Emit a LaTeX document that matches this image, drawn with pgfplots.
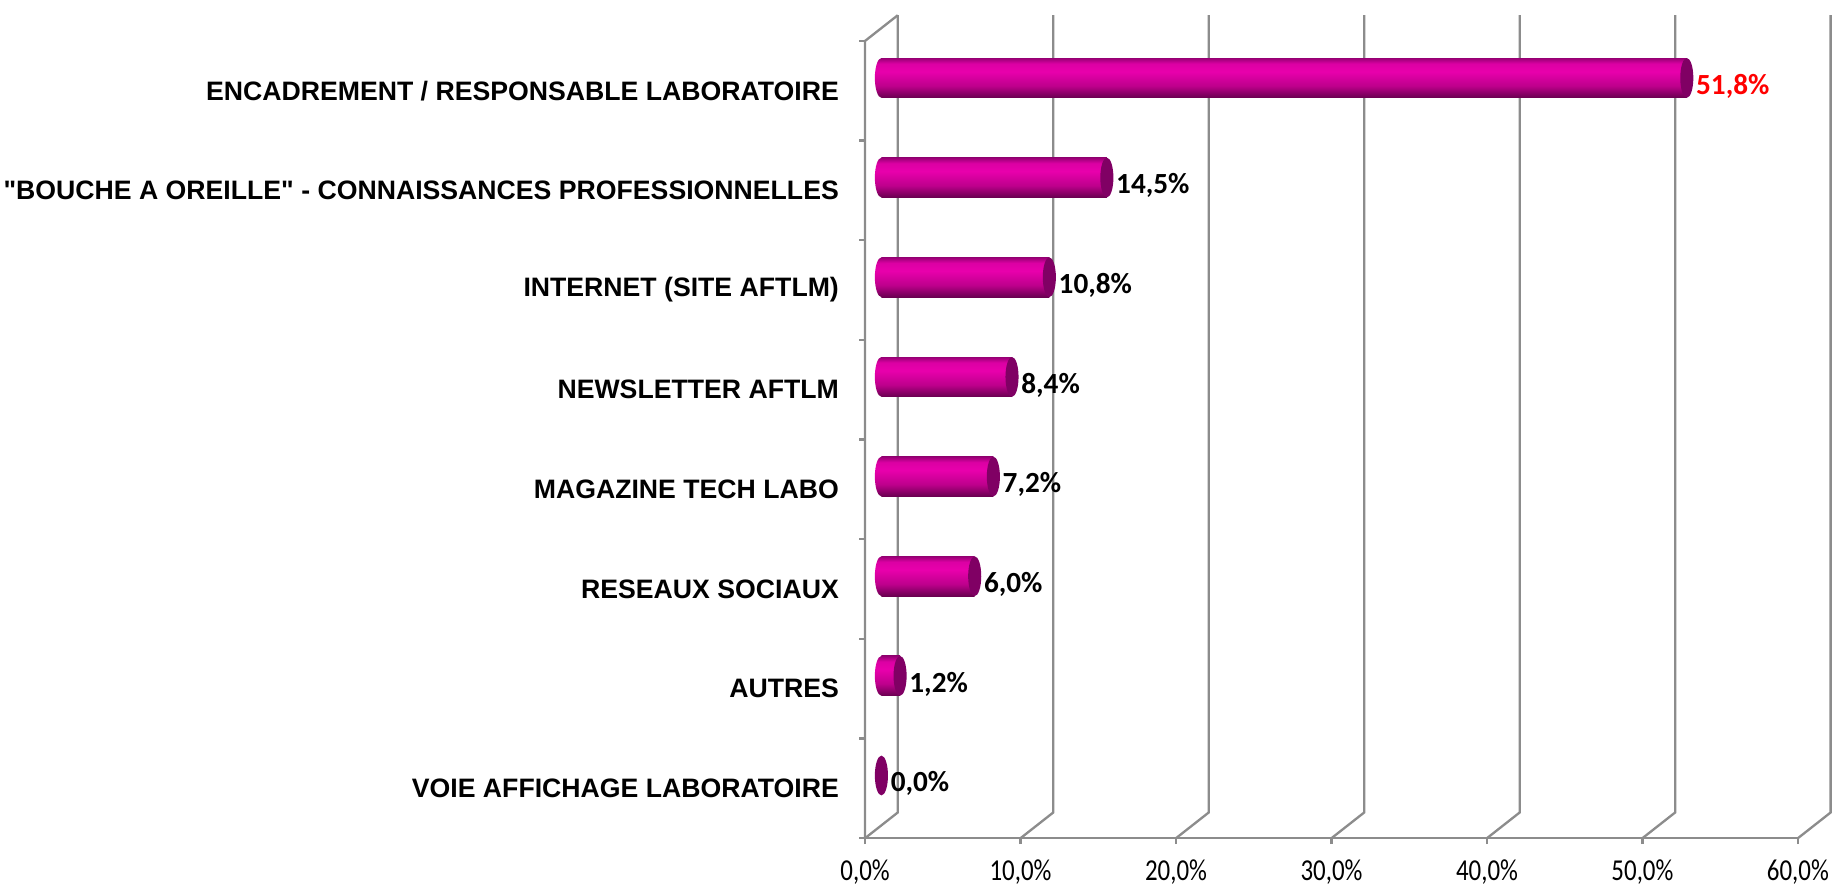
\documentclass[border=0pt]{standalone}
\usepackage{fontspec}
\setmainfont{Liberation Sans}[Ligatures=TeXOff]
\newfontfamily\carlito{Carlito}
\newfontfamily\carlitocond{Carlito}[FakeStretch=0.82]
\usepackage{pgfplots}
\pgfplotsset{compat=1.18}
\definecolor{cbright}{RGB}{232,0,172}
\definecolor{cmid}{RGB}{190,0,140}
\definecolor{cdark}{RGB}{105,0,80}
\definecolor{ctop}{RGB}{150,0,115}
\definecolor{ccap}{RGB}{128,0,100}
\definecolor{gridc}{RGB}{140,140,140}
\pgfdeclareverticalshading{cyl}{100bp}{color(0bp)=(cdark); color(25bp)=(cdark); color(40bp)=(cmid); color(58bp)=(cbright); color(68bp)=(cbright!85!ctop); color(75bp)=(ctop); color(100bp)=(ctop)}
\pgfdeclareplotmark{lcap}{\pgfpathellipse{\pgfpointorigin}{\pgfqpoint{2.8pt}{0pt}}{\pgfqpoint{0pt}{8.5pt}}\pgfshadepath{cyl}{0}\pgfusepath{}}
\pgfdeclareplotmark{rcap}{\pgfpathellipse{\pgfpointorigin}{\pgfqpoint{2.8pt}{0pt}}{\pgfqpoint{0pt}{8.5pt}}\pgfusepathqfill}
\newcommand\cylbody[2]{\addplot[xbar, bar shift=0pt, bar width=17pt, draw=none, shade, shading=cyl, shading angle=0, xshift=7pt, yshift=5.5pt] coordinates {(#1,#2)};}
\begin{document}
\begin{tikzpicture}
\useasboundingbox (-370pt,-20pt) rectangle (414pt,358.5pt);
\begin{axis}[
  at={(0,0)}, anchor=south west,
  scale only axis, width=399pt, height=341pt,
  xmin=0, xmax=60, ymin=-0.5, ymax=7.5, y dir=reverse,
  axis x line*=bottom, axis y line*=left,
  axis line style={gridc, line width=1pt},
  tick style={gridc, line width=1pt},
  tick align=outside, major tick length=2.5pt,
  xtick={0,10,...,60},
  xticklabel={\pgfmathprintnumber{\tick}\%},
  /pgf/number format/.cd, fixed, fixed zerofill, precision=1, use comma, assume math mode=true,
  /pgfplots/.cd,
  xticklabel style={font=\carlitocond\fontsize{13}{15}\selectfont, anchor=north, inner sep=0pt, yshift=-6.5pt},
  ytick={-0.5,0.5,...,7.5}, yticklabels={},
  extra y ticks={0,1,...,7},
  extra y tick labels={{ENCADREMENT / RESPONSABLE LABORATOIRE},{"BOUCHE A OREILLE" - CONNAISSANCES PROFESSIONNELLES},{INTERNET (SITE AFTLM)},{NEWSLETTER AFTLM},{MAGAZINE TECH LABO},{RESEAUX SOCIAUX},{AUTRES},{VOIE AFFICHAGE LABORATOIRE\ }},
  extra y tick style={major tick length=0pt, yticklabel style={font=\fontsize{11.4}{13}\selectfont\bfseries, anchor=east, inner sep=0pt, xshift=-11pt}},
  clip=false,
]
\pgfplotsinvokeforeach{0,10,20,30,40,50,60}{
  \draw[gridc, line width=1pt] (axis cs:#1,7.5) -- ([xshift=14pt,yshift=11pt]axis cs:#1,7.5) -- ([xshift=14pt,yshift=11pt]axis cs:#1,-0.5);
}
\draw[gridc, line width=1pt] (axis cs:0,7.5) -- (axis cs:0,-0.5) -- ([xshift=14pt,yshift=11pt]axis cs:0,-0.5);
\draw[gridc, line width=1pt] (axis cs:0,7.5) -- (axis cs:60,7.5);
% left caps
\addplot[only marks, mark=lcap, xshift=7pt, yshift=5.5pt] coordinates {(0,0) (0,1) (0,2) (0,3) (0,4) (0,5) (0,6)};
% bodies, one plot each
\cylbody{51.8}{0}
\cylbody{14.5}{1}
\cylbody{10.8}{2}
\cylbody{8.4}{3}
\cylbody{7.2}{4}
\cylbody{6.0}{5}
\cylbody{1.2}{6}
% right caps with labels
\addplot[only marks, mark=rcap, mark options={fill=ccap, draw=none}, xshift=7pt, yshift=5.5pt,
  nodes near coords={\pgfmathprintnumber{\pgfplotspointmeta}\%},
  point meta=x,
  nodes near coords style={anchor=west, xshift=3.8pt, yshift=-3.5pt, inner sep=0pt, font=\carlito\bfseries\fontsize{12.5}{14}\selectfont, text=black}]
  coordinates {(14.5,1) (10.8,2) (8.4,3) (7.2,4) (6.0,5) (1.2,6) (0.0,7)};
\addplot[only marks, mark=rcap, mark options={fill=ccap, draw=none}, xshift=7pt, yshift=5.5pt,
  nodes near coords={\pgfmathprintnumber{\pgfplotspointmeta}\%},
  point meta=x,
  nodes near coords style={anchor=west, xshift=3.8pt, yshift=-3.5pt, inner sep=0pt, font=\carlito\bfseries\fontsize{12.5}{14}\selectfont, text=red}]
  coordinates {(51.8,0)};
\end{axis}
\end{tikzpicture}
\end{document}
